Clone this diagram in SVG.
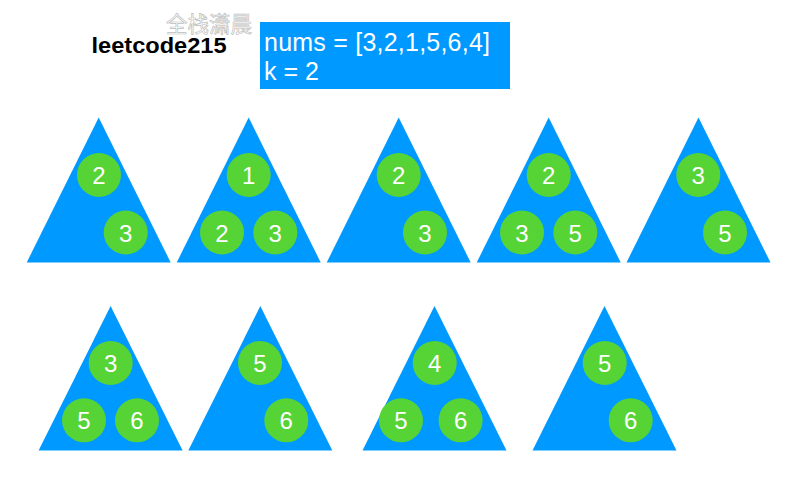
<svg xmlns="http://www.w3.org/2000/svg" width="811" height="499" viewBox="0 0 811 499">
<style>
.tri{fill:#0099FF}
.c{fill:#56D435}
.n{font-family:"Liberation Sans",Arial,sans-serif;font-size:24px;fill:#fff;text-anchor:middle}
.title{font-family:"Liberation Sans",Arial,sans-serif;font-size:21.5px;font-weight:bold;fill:#000}
.info{font-family:"Liberation Sans",Arial,sans-serif;font-size:25px;fill:#fff}
.wm{font-family:"Noto Sans CJK SC",sans-serif;font-size:21.5px;fill:#fff;stroke:#bdbdbd;stroke-width:0.7}
</style>
<rect width="811" height="499" fill="#fff"/>
<text class="wm" x="166" y="32" textLength="86">全栈潇晨</text>
<text class="title" x="91.5" y="53" textLength="135" lengthAdjust="spacingAndGlyphs">leetcode215</text>
<g id="input">
<rect x="260" y="22" width="250" height="67" fill="#0099FF"/>
<text class="info" x="264" y="51" textLength="226">nums = [3,2,1,5,6,4]</text>
<text class="info" x="264" y="80">k = 2</text>
</g>
<g id="connectors"></g>
<g id="heap1">
<polygon class="tri" points="98.7,117.5 170.7,262.5 26.7,262.5"/>
<circle class="c" cx="99" cy="175" r="22"/><text class="n" x="99" y="184">2</text>
<circle class="c" cx="125.7" cy="232.5" r="22"/><text class="n" x="125.7" y="241.5">3</text>
</g>
<g id="heap2">
<polygon class="tri" points="248.7,117.5 320.7,262.5 176.7,262.5"/>
<circle class="c" cx="248.7" cy="175" r="22"/><text class="n" x="248.7" y="184">1</text>
<circle class="c" cx="222" cy="232.5" r="22"/><text class="n" x="222" y="241.5">2</text>
<circle class="c" cx="275.3" cy="232.5" r="22"/><text class="n" x="275.3" y="241.5">3</text>
</g>
<g id="heap3">
<polygon class="tri" points="398.7,117.5 470.7,262.5 326.7,262.5"/>
<circle class="c" cx="398.7" cy="175" r="22"/><text class="n" x="398.7" y="184">2</text>
<circle class="c" cx="425" cy="232.5" r="22"/><text class="n" x="425" y="241.5">3</text>
</g>
<g id="heap4">
<polygon class="tri" points="548.7,117.5 620.7,262.5 476.7,262.5"/>
<circle class="c" cx="548.7" cy="175" r="22"/><text class="n" x="548.7" y="184">2</text>
<circle class="c" cx="522" cy="232.5" r="22"/><text class="n" x="522" y="241.5">3</text>
<circle class="c" cx="575.3" cy="232.5" r="22"/><text class="n" x="575.3" y="241.5">5</text>
</g>
<g id="heap5">
<polygon class="tri" points="698.5,117.5 770.5,262.5 626.5,262.5"/>
<circle class="c" cx="698.3" cy="175" r="22"/><text class="n" x="698.3" y="184">3</text>
<circle class="c" cx="725" cy="232.5" r="22"/><text class="n" x="725" y="241.5">5</text>
</g>
<g id="heap6">
<polygon class="tri" points="110.6,306 182.6,450.5 38.6,450.5"/>
<circle class="c" cx="110.7" cy="363" r="22"/><text class="n" x="110.7" y="372">3</text>
<circle class="c" cx="84" cy="420.3" r="22"/><text class="n" x="84" y="429.3">5</text>
<circle class="c" cx="137" cy="420.3" r="22"/><text class="n" x="137" y="429.3">6</text>
</g>
<g id="heap7">
<polygon class="tri" points="260.3,306 332.3,450.5 188.3,450.5"/>
<circle class="c" cx="260" cy="363" r="22"/><text class="n" x="260" y="372">5</text>
<circle class="c" cx="286.3" cy="420.3" r="22"/><text class="n" x="286.3" y="429.3">6</text>
</g>
<g id="heap8">
<polygon class="tri" points="434.5,306 506.5,450.5 362.5,450.5"/>
<circle class="c" cx="434.7" cy="363" r="22"/><text class="n" x="434.7" y="372">4</text>
<circle class="c" cx="401" cy="420.3" r="22"/><text class="n" x="401" y="429.3">5</text>
<circle class="c" cx="460.6" cy="420.3" r="22"/><text class="n" x="460.6" y="429.3">6</text>
</g>
<g id="heap9">
<polygon class="tri" points="604.5,306 676.5,450.5 532.5,450.5"/>
<circle class="c" cx="604.7" cy="363" r="22"/><text class="n" x="604.7" y="372">5</text>
<circle class="c" cx="630.7" cy="420.3" r="22"/><text class="n" x="630.7" y="429.3">6</text>
</g>
</svg>
